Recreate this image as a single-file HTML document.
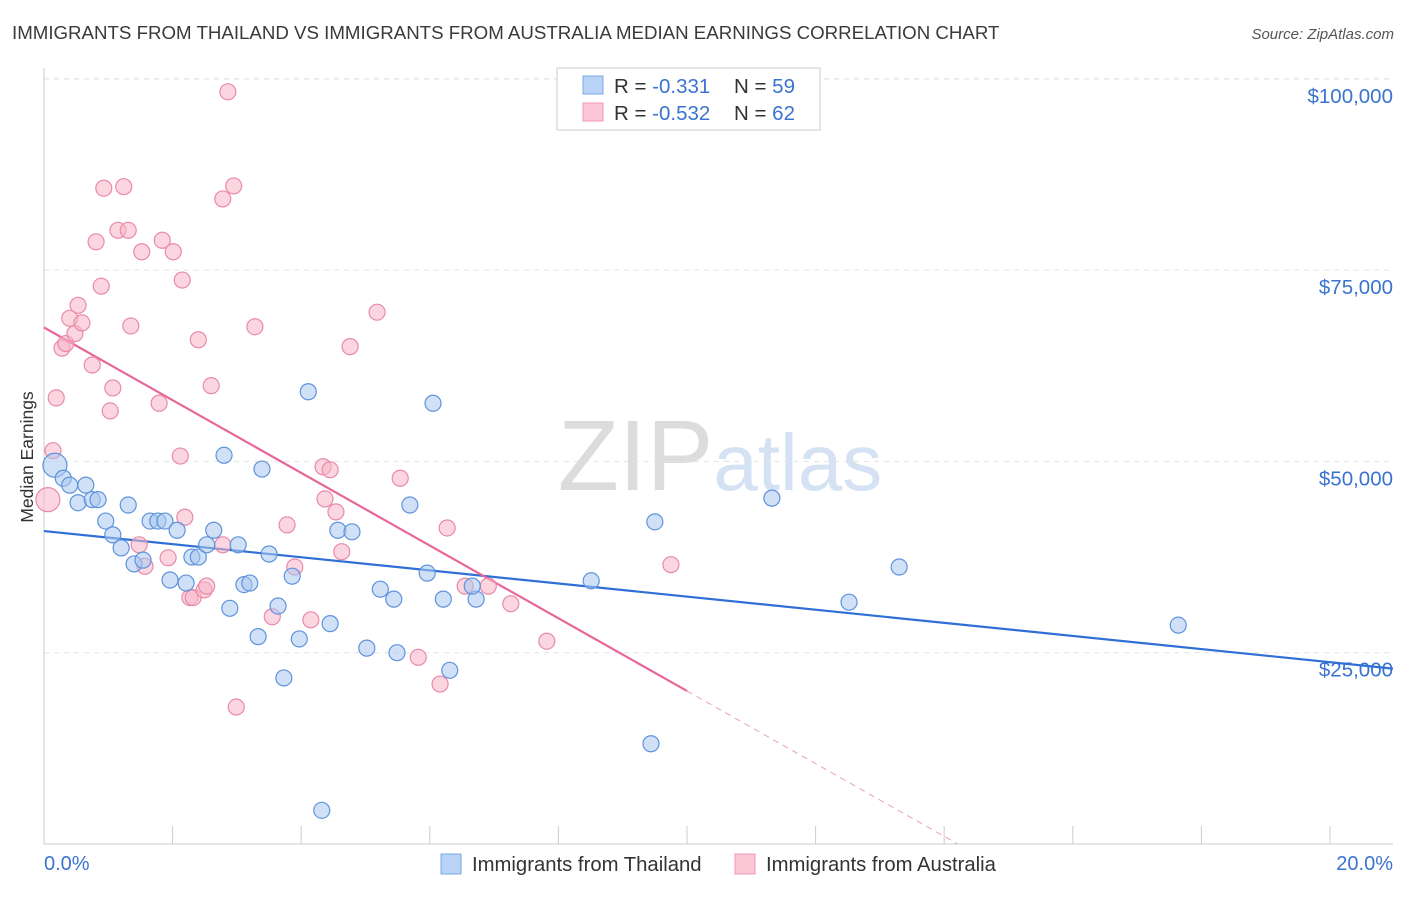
<!DOCTYPE html>
<html><head><meta charset="utf-8"><style>
body{margin:0;background:#fff;font-family:"Liberation Sans",sans-serif;}
svg text{font-family:"Liberation Sans",sans-serif;}
</style></head><body>
<svg id="chart" width="1406" height="892" xmlns="http://www.w3.org/2000/svg">
<text x="12" y="39" font-size="18.7" fill="#3a3a3a">IMMIGRANTS FROM THAILAND VS IMMIGRANTS FROM AUSTRALIA MEDIAN EARNINGS CORRELATION CHART</text>
<text x="1394" y="39" font-size="15" fill="#555" text-anchor="end" font-style="italic">Source: ZipAtlas.com</text>
<text x="720" y="490" font-size="100" text-anchor="middle" fill="#e4e4e4" font-family="Liberation Serif"><tspan fill="#dcdcdc">ZIP</tspan><tspan fill="#d4e2f4" font-family="Liberation Sans" font-size="80">atlas</tspan></text>
<text transform="translate(33,457) rotate(-90)" font-size="17.5" fill="#333" text-anchor="middle">Median Earnings</text>
<g id="grid"></g><g id="axes"></g><g id="lines"></g><g id="pts"></g>
<g>
<rect x="557" y="68" width="263" height="62" fill="#fff" stroke="#ccc"/>
<rect x="583" y="76" width="20" height="18" fill="#b8d3f5" stroke="#7aa7e6"/>
<rect x="583" y="103" width="20" height="18" fill="#fbc6d5" stroke="#ee9ab4"/>
<text x="614" y="93" font-size="20.5" fill="#333">R = <tspan fill="#3b73d0"> -0.331</tspan><tspan x="734">N = </tspan><tspan fill="#3b73d0">59</tspan></text>
<text x="614" y="120" font-size="20.5" fill="#333">R = <tspan fill="#3b73d0">-0.532</tspan><tspan x="734">N = </tspan><tspan fill="#3b73d0">62</tspan></text>
</g>
<g>
<rect x="441" y="854" width="20" height="20" fill="#b8d3f5" stroke="#7aa7e6"/>
<text x="472" y="871" font-size="20.3" fill="#333">Immigrants from Thailand</text>
<rect x="735" y="854" width="20" height="20" fill="#fbc6d5" stroke="#ee9ab4"/>
<text x="766" y="871" font-size="20.3" fill="#333">Immigrants from Australia</text>
</g>
</svg>
<script>
const yTicks=[25000,50000,75000,100000];
const yTickLabels=["$25,000","$50,000","$75,000","$100,000"];
const xTickLabels=["0.0%","20.0%"];
const blueX=[0.17,0.30,0.40,0.53,0.65,0.75,0.84,0.96,1.07,1.20,1.31,1.40,1.54,1.65,1.77,1.88,1.96,2.07,2.21,2.30,2.40,2.53,2.64,2.80,2.89,3.02,3.11,3.20,3.33,3.39,3.50,3.64,3.73,3.86,3.97,4.11,4.32,4.45,4.57,4.79,5.02,5.23,5.44,5.49,5.69,5.96,6.05,6.21,6.31,6.72,6.66,8.51,9.44,9.50,11.32,12.52,13.30,17.64];
const blueY=[49.5,47.8,46.9,44.6,46.9,45.0,45.0,42.2,40.4,38.7,44.3,36.6,37.1,42.2,42.2,42.2,34.5,41.0,34.1,37.5,37.5,39.1,41.0,50.8,30.8,39.1,33.9,34.1,27.1,49.0,37.9,31.1,21.7,35.0,26.8,59.1,4.4,28.8,41.0,40.8,25.6,33.3,32.0,25.0,44.3,35.4,57.6,32.0,22.7,32.0,33.7,34.4,13.1,42.1,45.2,31.6,36.2,28.6];
const pinkX=[0.06,0.14,0.19,0.28,0.34,0.40,0.48,0.53,0.59,0.75,0.81,0.89,0.93,1.03,1.07,1.15,1.24,1.31,1.35,1.48,1.52,1.57,1.79,1.84,1.93,2.01,2.12,2.15,2.19,2.27,2.32,2.40,2.49,2.53,2.60,2.78,2.78,2.86,2.95,2.99,3.28,3.55,3.78,3.90,4.15,4.34,4.37,4.45,4.54,4.63,4.76,5.18,5.54,5.82,6.16,6.27,6.55,6.91,7.26,7.82,9.75];
const pinkY=[45.0,51.4,58.3,64.8,65.4,68.7,66.7,70.4,68.1,62.6,78.7,72.9,85.7,56.6,59.6,80.2,85.9,80.2,67.7,39.1,77.4,36.3,57.6,78.9,37.4,77.4,50.7,73.7,42.7,32.2,32.2,65.9,33.2,33.7,59.9,84.3,39.1,98.3,86.0,17.9,67.6,29.7,41.7,36.2,29.3,49.3,45.1,48.9,43.4,38.2,65.0,69.5,47.8,24.4,20.9,41.3,33.7,33.7,31.4,26.5,36.5];
const blueTrend=[40.9,-0.857];
const pinkTrend=[67.5,-4.75];
const X0=44,X1=1330,Y0=844,Yk=191.3/25;
const sx=v=>X0+(X1-X0)*v/20, sy=v=>Y0-v*Yk;
const NS="http://www.w3.org/2000/svg";
function mk(p,t,a){const e=document.createElementNS(NS,t);for(const k in a)e.setAttribute(k,a[k]);document.getElementById(p).appendChild(e);return e;}
yTicks.forEach((t,i)=>{
 const g=mk('grid','line',{x1:44,x2:1393,y1:sy(t/1000),y2:sy(t/1000),stroke:'#e2e2e2','stroke-dasharray':'5,5'});
 
 
 const l=mk('axes','text',{x:1393,y:sy(t/1000)+24,'font-size':20.5,fill:'#3b73d0','text-anchor':'end'});
 l.textContent=yTickLabels[i];
 
 
});
const tg=mk('grid','line',{x1:44,x2:1393,y1:79,y2:79,stroke:'#e2e2e2','stroke-dasharray':'5,5'});


const ya=mk('axes','line',{x1:44,x2:44,y1:68,y2:844,stroke:'#ccc'});


const xa=mk('axes','line',{x1:44,x2:1393,y1:844,y2:844,stroke:'#ccc'});


for(let i=0;i<=10;i++){const t=mk('axes','line',{x1:sx(i*2),x2:sx(i*2),y1:826,y2:844,stroke:'#ccc'});
 
 }
[[0,'start',44],[20,'end',1393]].forEach((d,i)=>{const l=mk('axes','text',{x:d[2],y:870,'font-size':20,fill:'#3b73d0','text-anchor':d[1]});l.textContent=xTickLabels[i];
 
 });
function pts(xs,ys,fill,stroke,name){xs.forEach((x,i)=>{const r=(i===0)?12:8;
 const c=mk('pts','circle',{cx:sx(x),cy:sy(ys[i]),r:r,fill:fill,'fill-opacity':0.55,stroke:stroke,'stroke-width':1.2});
 
 });}
pts(pinkX,pinkY,'#f7b5c9','#e98aa8','australia-point');
pts(blueX,blueY,'#a9c8f0','#5f93dc','thailand-point');
const xe=(1393-44)/(X1-X0)*20;
const bl=mk('lines','line',{x1:sx(0),y1:sy(blueTrend[0]),x2:sx(xe),y2:sy(blueTrend[0]+blueTrend[1]*xe),stroke:'#2f6fd6','stroke-width':2.2});


const pe=10, pz=-pinkTrend[0]/pinkTrend[1];
const pl=mk('lines','line',{x1:sx(0),y1:sy(pinkTrend[0]),x2:sx(pe),y2:sy(pinkTrend[0]+pinkTrend[1]*pe),stroke:'#e8679a','stroke-width':2.2});


const pd=mk('lines','line',{x1:sx(pe),y1:sy(pinkTrend[0]+pinkTrend[1]*pe),x2:sx(pz),y2:sy(0),stroke:'#e8a0b8','stroke-width':1,'stroke-dasharray':'6,5'});


</script>
</body></html>
